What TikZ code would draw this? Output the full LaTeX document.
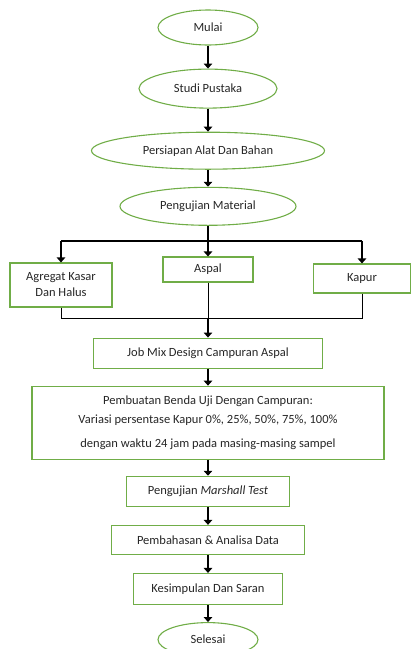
\documentclass[tikz,border=0pt]{standalone}
\usepackage{fontspec}
\setmainfont{Carlito}
\usepackage{xcolor}
\usetikzlibrary{positioning,shapes.geometric,arrows.meta}
\definecolor{boxgreen}{HTML}{70AD47}

\begin{document}
\begin{tikzpicture}[
    x=1pt, y=1pt,
    node distance=20pt,
    every node/.style={font=\fontsize{12.5}{15}\selectfont, text=black!85},
    oval/.style={ellipse, draw=boxgreen, line width=1.1pt, inner sep=0pt},
    box/.style={rectangle, draw=boxgreen, line width=1.1pt, inner sep=0pt, align=center},
    arr/.style={line width=2.4pt, -{Triangle[length=5pt,width=8.5pt]}},
    bar/.style={line width=1.8pt},
    thinline/.style={line width=0.9pt}
]
    \useasboundingbox (0,0) rectangle (411,-649);

    \node[oval, minimum width=100pt, minimum height=35pt] (mulai) at (208,-27.5) {Mulai};
    \node[oval, minimum width=138pt, minimum height=39pt, below=23pt of mulai] (studi) {Studi Pustaka};
    \node[oval, minimum width=233pt, minimum height=37pt, below=23pt of studi] (persiapan) {Persiapan Alat Dan Bahan};
    \node[oval, minimum width=176pt, minimum height=38pt, below=17pt of persiapan] (pm) {Pengujian Material};

    \coordinate[below=15pt of pm] (split);
    \node[box, minimum width=102pt, minimum height=44pt] (agregat) at (61,-285) {Agregat Kasar\\[1pt] Dan Halus};
    \node[box, minimum width=90pt, minimum height=25pt] (aspal) at (208,-269.5) {Aspal};
    \node[box, minimum width=97pt, minimum height=29pt] (kapur) at (362,-278.5) {Kapur};
    \coordinate[below=36pt of aspal] (merge);

    \node[box, minimum width=229pt, minimum height=30pt, below=19pt of merge] (jmd) {Job Mix Design Campuran Aspal};
    \node[box, minimum width=352pt, minimum height=73pt, below=17pt of jmd] (benda)
        {Pembuatan Benda Uji Dengan Campuran:\\[4pt]
         Variasi persentase Kapur 0\%, 25\%, 50\%, 75\%, 100\%\\[9pt]
         dengan waktu 24 jam pada masing-masing sampel};
    \node[box, minimum width=163pt, minimum height=30pt, below=16pt of benda] (marshall) {Pengujian \textit{Marshall Test}};
    \node[box, minimum width=193pt, minimum height=29pt, below=18pt of marshall] (bahas) {Pembahasan \& Analisa Data};
    \node[box, minimum width=149pt, minimum height=31pt, below=18pt of bahas] (simpul) {Kesimpulan Dan Saran};
    \node[oval, minimum width=100pt, minimum height=34pt, below=17pt of simpul] (selesai) {Selesai};

    \draw[arr] (mulai) -- (studi);
    \draw[arr] (studi) -- (persiapan);
    \draw[arr] (persiapan) -- (pm);

    % cabang ke bahan
    \draw[bar] (pm) -- (split);
    \draw[bar] (agregat |- split) -- (kapur |- split);
    \draw[arr] (agregat |- split) -- (agregat);
    \draw[arr] (split) -- (aspal);
    \draw[arr] (kapur |- split) -- (kapur);

    % gabung
    \draw[thinline] (agregat) -- (agregat |- merge);
    \draw[thinline] (aspal) -- (merge);
    \draw[thinline] (kapur) -- (kapur |- merge);
    \draw[thinline] (agregat |- merge) -- (kapur |- merge);
    \draw[arr] (merge) -- (jmd);

    \draw[arr] (jmd) -- (benda);
    \draw[arr] (benda) -- (marshall);
    \draw[arr] (marshall) -- (bahas);
    \draw[arr] (bahas) -- (simpul);
    \draw[arr] (simpul) -- (selesai);
\end{tikzpicture}
\end{document}
